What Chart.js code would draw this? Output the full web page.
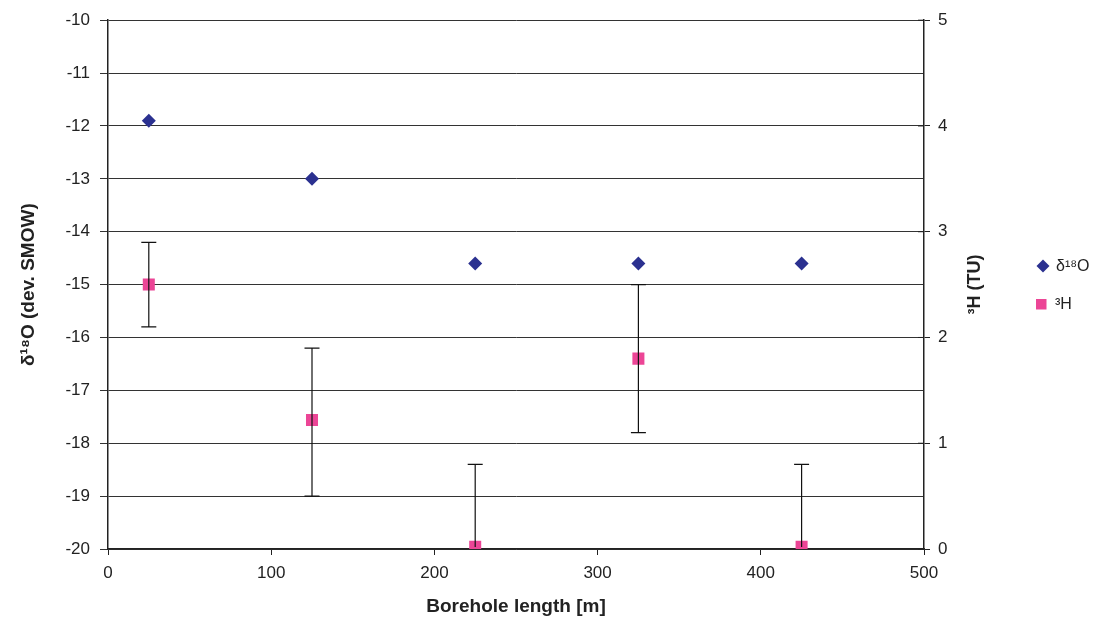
<!DOCTYPE html>
<html>
<head>
<meta charset="utf-8">
<script src="https://cdn.jsdelivr.net/npm/chart.js@4/dist/chart.umd.min.js"></script>
<style>
  html, body { margin: 0; padding: 0; background: #fff; }
  #wrap { width: 1099px; height: 628px; }
</style>
</head>
<body>
<div id="wrap"><canvas id="myChart"></canvas></div>
<script>
// borehole length [m]
let lengths = [25, 125, 225, 325, 425]
// delta 18O (dev. SMOW)
let d18O = [-11.9, -13.0, -14.6, -14.6, -14.6]
// tritium (TU) with error bar low / high
let tritium = [2.5, 1.22, 0.02, 1.8, 0.02]
let tritiumLow = [2.1, 0.5, 0.02, 1.1, 0.02]
let tritiumHigh = [2.9, 1.9, 0.8, 2.5, 0.8]

let navy = '#2B3190'
let pink = '#EC4596'
let font = 'Arial, "Liberation Sans", sans-serif'

// error bars on the 3H series
let errorBars = {
  id: 'errorBars',
  afterDatasetsDraw(chart) {
    let c = chart.ctx
    let xs = chart.scales.x, ys = chart.scales.y2
    c.save()
    c.strokeStyle = '#111'
    c.lineWidth = 1.2
    for (let i = 0; i < lengths.length; i++) {
      let px = xs.getPixelForValue(lengths[i])
      let top = ys.getPixelForValue(tritiumHigh[i])
      let bot = ys.getPixelForValue(tritiumLow[i])
      c.beginPath()
      c.moveTo(px, top); c.lineTo(px, bot)
      c.moveTo(px - 7.5, top); c.lineTo(px + 7.5, top)
      if (tritiumLow[i] > 0.05) { c.moveTo(px - 7.5, bot); c.lineTo(px + 7.5, bot) }
      c.stroke()
    }
    c.restore()
  }
}

// right axis title (reads bottom to top) and legend
let extras = {
  id: 'extras',
  afterDraw(chart) {
    let c = chart.ctx
    let ys = chart.scales.y2
    c.save()
    // right ticks crossing inside
    c.strokeStyle = '#222'
    c.lineWidth = 1
    for (let v = 0; v <= 5; v++) {
      let py = ys.getPixelForValue(v)
      c.beginPath(); c.moveTo(ys.left - 6, py); c.lineTo(ys.left, py); c.stroke()
    }
    // title
    c.translate(975, (chart.chartArea.top + chart.chartArea.bottom) / 2)
    c.rotate(-Math.PI / 2)
    c.fillStyle = '#222'
    c.font = 'bold 18px ' + font
    c.textAlign = 'center'
    c.textBaseline = 'middle'
    c.fillText('³H (TU)', 0, 0)
    c.restore()

    // legend
    c.save()
    c.fillStyle = navy
    c.beginPath()
    c.moveTo(1043, 259.5); c.lineTo(1049.5, 266); c.lineTo(1043, 272.5); c.lineTo(1036.5, 266)
    c.closePath(); c.fill()
    c.fillStyle = pink
    c.fillRect(1036, 299, 10.5, 10.5)
    c.fillStyle = '#222'
    c.font = '16px ' + font
    c.textBaseline = 'middle'
    c.fillText('δ¹⁸O', 1056, 267)
    c.fillText('³H', 1055, 305)
    c.restore()
  }
}

let ctx = document.getElementById('myChart').getContext('2d')
let myChart = new Chart(ctx, {
  type: 'scatter',
  data: {
    datasets: [{
      label: 'δ18O',
      data: lengths.map((x, i) => ({ x: x, y: d18O[i] })),
      yAxisID: 'y',
      pointStyle: 'rectRot',
      pointRadius: 7,
      pointHoverRadius: 7,
      backgroundColor: navy,
      borderColor: navy,
      borderWidth: 0
    }, {
      label: '3H',
      data: lengths.map((x, i) => ({ x: x, y: tritium[i] })),
      yAxisID: 'y2',
      pointStyle: 'rect',
      pointRadius: 8.5,
      pointHoverRadius: 8.5,
      backgroundColor: pink,
      borderColor: pink,
      borderWidth: 0
    }]
  },
  options: {
    responsive: true,
    maintainAspectRatio: false,
    animation: false,
    events: [],
    layout: { padding: { top: 19, right: 135, left: 0, bottom: 0 } },
    plugins: { legend: { display: false }, tooltip: { enabled: false } },
    scales: {
      x: {
        type: 'linear', min: 0, max: 500,
        afterFit: s => { s.height = 79 },
        ticks: { stepSize: 100, color: '#222', padding: 8, font: { size: 17, family: font } },
        grid: { drawOnChartArea: false, color: '#222', tickLength: 6 },
        border: { color: '#222', width: 1.5 },
        title: { display: true, text: 'Borehole length [m]', color: '#222', padding: { top: 4, bottom: 10 },
          font: { size: 19, weight: 'bold', family: font } }
      },
      y: {
        position: 'left', min: -20, max: -10,
        afterFit: s => { s.width = 108 },
        ticks: { stepSize: 1, color: '#222', padding: 10, font: { size: 17, family: font } },
        grid: { color: '#333', lineWidth: 1, tickLength: 8 },
        border: { color: '#222', width: 1.5 },
        title: { display: true, text: 'δ¹⁸O (dev. SMOW)', color: '#222', padding: { top: 17, bottom: 0 },
          font: { size: 19, weight: 'bold', family: font } }
      },
      y2: {
        position: 'right', min: 0, max: 5,
        afterFit: s => { s.width = 40 },
        ticks: { stepSize: 1, color: '#222', padding: 8, font: { size: 17, family: font } },
        grid: { drawOnChartArea: false, color: '#222', tickLength: 6 },
        border: { color: '#222', width: 1.5 }
      }
    }
  },
  plugins: [errorBars, extras]
})
</script>
</body>
</html>
